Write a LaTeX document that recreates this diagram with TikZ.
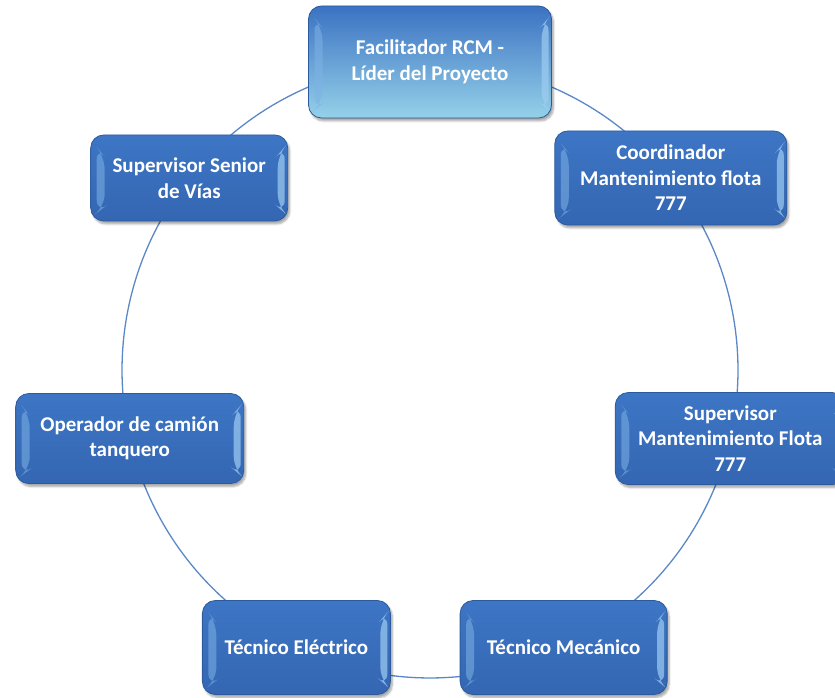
\documentclass[tikz,border=0pt]{standalone}
\usepackage{fontspec}
\setmainfont{Carlito}
\usetikzlibrary{calc,shadows.blur,backgrounds}

\definecolor{ringline}{HTML}{5A88C6}
\definecolor{boxrim}{HTML}{2C5A9C}
\definecolor{boxtop}{HTML}{3D76C5}
\definecolor{boxbot}{HTML}{3466B2}
\definecolor{bevelL}{HTML}{7FB2E6}
\definecolor{bevelR}{HTML}{9FCDF2}
\definecolor{hltop}{HTML}{3B72C2}
\definecolor{hlbot}{HTML}{95D1E9}

\tikzset{
  ring/.style={draw=ringline, line width=1.3pt},
  bevel/.style={
    path picture={
      \coordinate (pa) at (path picture bounding box.north west);
      \coordinate (pb) at (path picture bounding box.south east);
      \fill[bevelL, opacity=0.55]
        ($(pa)+(6,-12)$) -- ($(pa)+(14,-22)$) -- ($(pa|-pb)+(14,14)$) -- ($(pa|-pb)+(6,8)$) -- cycle;
      \fill[bevelR, opacity=0.7]
        ($(pa-|pb)+(-3,-12)$) -- ($(pa-|pb)+(-10,-20)$) -- ($(pb)+(-10,14)$) -- ($(pb)+(-3,8)$) -- cycle;
    }},
  cyclebox/.style={
    rounded corners=13pt, draw=boxrim, line width=0.8pt,
    top color=boxtop, bottom color=boxbot,
    text=white, font=\bfseries\fontsize{21}{25.5}\selectfont,
    align=center, inner sep=0pt, bevel,
    blur shadow={shadow xshift=2pt, shadow yshift=-3pt, shadow blur steps=6, shadow opacity=35}},
  leadbox/.style={cyclebox, top color=hltop, bottom color=hlbot}
}

\begin{document}
\begin{tikzpicture}[x=1pt,y=1pt]
  \useasboundingbox (0,0) rectangle (835,698);
  \coordinate (c) at (430,328);

  % seven roles evenly spaced around the ring
  \node[leadbox,  minimum width=243, minimum height=112] (n0) at ($(c)+(90:308)$)
    {Facilitador RCM -\\Líder del Proyecto};
  \node[cyclebox, minimum width=232, minimum height=94] (n1) at ($(c)+({90-360/7}:308)$)
    {Coordinador\\Mantenimiento flota\\777};
  \node[cyclebox, minimum width=230, minimum height=92] (n2) at ($(c)+({90-2*360/7}:308)$)
    {Supervisor\\Mantenimiento Flota\\777};
  \node[cyclebox, minimum width=207, minimum height=94] (n3) at ($(c)+({90-3*360/7}:308)$)
    {Técnico Mecánico};
  \node[cyclebox, minimum width=188, minimum height=94] (n4) at ($(c)+({90-4*360/7}:308)$)
    {Técnico Eléctrico};
  \node[cyclebox, minimum width=228, minimum height=90] (n5) at ($(c)+({90-5*360/7}:308)$)
    {Operador de camión\\tanquero};
  \node[cyclebox, minimum width=197, minimum height=86] (n6) at ($(c)+({90-6*360/7}:308)$)
    {Supervisor Senior\\de Vías};

  % ring segments joining neighbouring roles
  \begin{scope}[on background layer]
    \foreach \k [evaluate=\k as \a using 90-\k*360/7] in {0,...,6}{
      \draw[ring] (n\k.center) arc[start angle=\a, delta angle=-360/7, radius=308];
    }
  \end{scope}
\end{tikzpicture}
\end{document}
